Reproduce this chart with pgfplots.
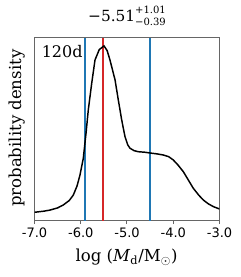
\documentclass[border=0pt]{standalone}
\usepackage{fontspec}
\setmainfont{DejaVu Serif}
\newfontfamily\ticksans{DejaVu Sans}
\usepackage{pgfplots}
\pgfplotsset{compat=1.18}
\definecolor{mplblue}{RGB}{31,119,180}
\definecolor{mplred}{RGB}{214,39,40}
\begin{document}
\begin{tikzpicture}[x=1pt,y=1pt]
\useasboundingbox (-25.875,-42.225) rectangle (154.125,165.525);
\begin{axis}[
  at={(0,0)}, anchor=south west,
  scale only axis, width=138.75pt, height=137.25pt,
  xmin=-7, xmax=-3, ymin=0, ymax=1,
  xtick={-7,-6,-5,-4,-3},
  xticklabels={-7.0,-6.0,-5.0,-4.0,-3.0},
  ytick=\empty,
  tick pos=left,
  tick align=outside, major tick length=2.6pt,
  axis line style={draw=black!60, line width=0.75pt},
  every tick/.style={black!60, line width=0.75pt},
  xticklabel style={font=\ticksans\fontsize{9.75}{10}\selectfont, anchor=base, yshift=-10.2pt},
]
\addplot[draw=mplblue, line width=1.5pt] coordinates {(-5.90,0) (-5.90,1)};
\addplot[draw=mplred, line width=1.5pt] coordinates {(-5.51,0) (-5.51,1)};
\addplot[draw=mplblue, line width=1.5pt] coordinates {(-4.50,0) (-4.50,1)};
\addplot[draw=black, line width=1.1pt] coordinates {
(-7.000,0.046) (-6.800,0.052) (-6.665,0.058) (-6.500,0.070) (-6.377,0.086)
(-6.250,0.110) (-6.161,0.140) (-6.080,0.190) (-6.016,0.250) (-5.945,0.341)
(-5.886,0.478) (-5.837,0.605) (-5.763,0.751) (-5.692,0.878) (-5.600,0.935)
(-5.497,0.955) (-5.430,0.930) (-5.368,0.878) (-5.259,0.770) (-5.188,0.660)
(-5.115,0.551) (-5.043,0.459) (-4.985,0.415) (-4.935,0.396) (-4.850,0.383)
(-4.756,0.377) (-4.611,0.374) (-4.503,0.370) (-4.350,0.365) (-4.215,0.359)
(-4.100,0.350) (-4.000,0.332) (-3.900,0.305) (-3.783,0.268) (-3.680,0.225)
(-3.566,0.177) (-3.450,0.140) (-3.350,0.113) (-3.240,0.092) (-3.134,0.077)
(-3.000,0.064)
};
\end{axis}
\node[anchor=base, inner sep=0pt] at (69.4,149.25) {\fontsize{11.5}{12}\selectfont −5.51\rlap{\raisebox{6.3pt}{\fontsize{7.5}{8}\selectfont +1.01}}\raisebox{-3.2pt}{\fontsize{7.5}{8}\selectfont −0.39}};
\node[anchor=base west, inner sep=0pt] at (5.25,122.55) {\fontsize{12}{13}\selectfont 120d};
\node[rotate=90, anchor=base, inner sep=0pt] at (-10.1,69.3) {\fontsize{12.4}{13}\selectfont probability density};
\node[anchor=base, inner sep=0pt] at (69.0,-30.75) {\fontsize{12.4}{13}\selectfont log (\textit{M}$_{\mbox{\fontsize{8.5}{9}\selectfont d}}$/M$_\odot$)};
\end{tikzpicture}
\end{document}
